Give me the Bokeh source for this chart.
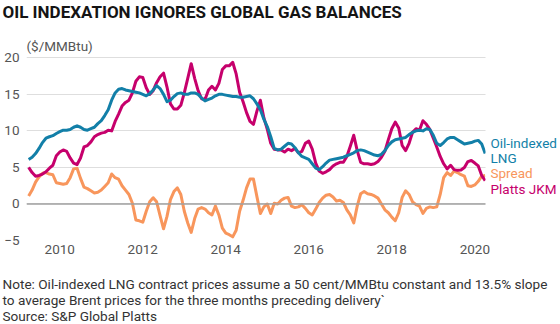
import pandas as pd
from bokeh.plotting import figure
from bokeh.layouts import column
from bokeh.models import Label, Span, FixedTicker, Range1d, BoxAnnotation
from bokeh.embed import file_html
from bokeh.resources import INLINE

# ---- data (monthly, Apr 2009 - Apr 2020), $/MMBtu ----
months = pd.date_range("2009-04-01", "2020-04-01", freq="MS")

oil_indexed_lng = [
    6.1, 6.4, 6.9, 7.6, 8.4, 9.0, 9.2, 9.35, 9.65, 9.9,
    10.1, 10.1, 10.2, 10.5, 10.7, 10.5, 10.2, 10.1, 10.3, 10.5,
    11.0, 11.4, 12.1, 12.9, 14.2, 15.2, 15.7, 15.8, 15.6, 15.5,
    15.4, 15.3, 15.2, 15.0, 14.8, 15.1, 15.6, 16.2, 15.8, 15.0,
    14.0, 14.2, 14.7, 15.1, 15.2, 15.0, 15.0, 15.2, 15.2, 15.0,
    14.5, 14.1, 14.3, 14.5, 14.8, 15.0, 15.0, 14.9, 14.8, 14.7,
    14.7, 14.6, 14.6, 14.7, 14.8, 14.4, 13.7, 12.9, 11.6, 10.6,
    9.2, 7.6, 7.4, 7.5, 7.9, 8.3, 8.2, 7.7, 7.0, 6.5,
    6.3, 6.1, 5.5, 4.9, 4.7, 5.1, 5.6, 6.0, 6.1, 6.2,
    6.3, 6.4, 6.6, 6.8, 7.0, 7.3, 7.4, 7.3, 7.1, 6.9,
    6.7, 6.6, 6.8, 7.3, 8.0, 8.5, 8.8, 8.9, 9.0, 9.1,
    9.5, 9.8, 10.0, 10.1, 10.0, 10.3, 10.2, 9.4, 8.3, 8.0,
    8.4, 8.9, 9.1, 9.1, 8.8, 8.5, 8.2, 8.3, 8.4, 8.6,
    8.7, 8.2, 6.9,
]

platts_jkm = [
    5.0, 4.3, 3.8, 3.9, 4.1, 4.4, 4.9, 5.3, 6.6, 7.1,
    7.4, 7.2, 6.3, 5.6, 5.4, 6.3, 7.8, 8.0, 8.5, 9.2,
    9.5, 9.7, 9.8, 10.1, 10.0, 11.3, 12.3, 13.4, 13.9, 14.2,
    15.2, 16.8, 17.4, 17.3, 15.9, 15.0, 15.5, 16.6, 17.4, 17.9,
    16.0, 13.7, 13.0, 13.0, 13.5, 15.2, 17.2, 19.2, 17.2, 15.5,
    14.4, 14.3, 15.6, 16.1, 15.6, 16.5, 18.4, 18.9, 18.9, 19.4,
    17.8, 15.3, 14.0, 12.5, 11.3, 10.9, 12.7, 14.2, 11.8, 10.2,
    8.3, 7.5, 7.4, 7.4, 7.1, 7.5, 7.3, 7.6, 7.0, 7.2,
    8.3, 8.6, 7.5, 5.6, 4.5, 4.2, 4.4, 4.7, 5.2, 5.5,
    5.7, 5.7, 6.5, 7.9, 9.4, 7.3, 5.7, 5.5, 5.5, 5.4,
    5.5, 5.8, 6.4, 7.2, 8.8, 10.3, 11.2, 10.4, 8.0, 7.3,
    8.3, 9.8, 10.3, 10.1, 11.4, 10.9, 10.2, 9.0, 7.8, 6.5,
    5.5, 4.8, 5.3, 4.7, 4.6, 4.65, 5.0, 5.8, 5.95, 5.6,
    5.2, 3.9, 3.2,
]

spread = [
    1.1, 1.9, 3.0, 3.7, 4.2, 4.3, 4.1, 4.0, 2.9, 2.8,
    2.7, 2.8, 3.6, 4.8, 4.9, 3.5, 2.3, 2.1, 1.8, 1.5,
    1.6, 1.9, 2.4, 2.9, 4.1, 3.6, 3.4, 2.5, 1.9, 1.3,
    0.1, -2.2, -2.3, -2.5, -1.0, 0.3, 0.85, 0.3, -1.6, -3.4,
    -1.7, 0.6, 1.7, 2.2, 1.3, -1.0, -2.6, -3.9, -2.0, -0.7,
    -0.5, -0.7, -1.2, -1.5, -0.3, -1.5, -3.3, -4.0, -4.2, -4.5,
    -3.6, -1.0, 0.5, 2.2, 3.4, 3.4, 1.0, -1.3, -0.4, 0.0,
    -1.3, 0.1, 0.0, 0.5, 0.8, 0.9, -0.3, -0.5, -0.4, -0.1,
    -0.6, -1.2, -1.5, -0.7, 0.2, 0.8, 1.2, 1.3, 0.95, 0.4,
    0.5, 0.2, -0.8, -1.5, -2.6, -0.3, 1.4, 1.7, 1.4, 1.3,
    1.1, 0.8, 0.0, -0.8, -1.2, -1.8, -2.3, -1.2, 0.9, 1.8,
    1.3, 0.3, -0.1, -0.3, -1.3, -0.6, -0.4, -0.5, -0.4, 1.3,
    3.6, 4.3, 3.9, 4.5, 4.3, 4.0, 3.8, 2.5, 2.4, 2.6,
    3.1, 3.8, 3.9,
]

x_ticks = [2010, 2012, 2014, 2016, 2018, 2020]
y_ticks = [-5, 0, 5, 10, 15, 20]

title_text = "OIL INDEXATION IGNORES GLOBAL GAS BALANCES"
unit_text = "($/MMBtu)"
note_lines = [
    "Note: Oil-indexed LNG contract prices assume a 50 cent/MMBtu constant and 13.5% slope",
    "to average Brent prices for the three months preceding delivery`",
    "Source: S&P Global Platts",
]
series_labels = ["Oil-indexed", "LNG", "Spread", "Platts JKM"]

# ---- styling ----
BLUE = "#127fa8"
MAGENTA = "#c6006c"
ORANGE = "#f8965c"
TICK_COLOR = "#555555"
FONT = "Roboto"
W = 560
TOP_H, MAIN_H, BOT_H = 36, 228, 60

x_years = [d.year + (d.month - 1) / 12 for d in months]
X0, X_DATA_END, X1 = 2009.198, 2020.258, 2022.065
Y0, Y1 = -5, 22.92


def text_fig(h):
    f = figure(width=W, height=h, output_backend="svg", toolbar_location=None,
               x_range=Range1d(0, W), y_range=Range1d(h, 0),
               min_border=0, x_axis_type=None, y_axis_type=None,
               frame_align=False)
    f.grid.visible = False
    f.outline_line_color = None
    f.background_fill_color = "white"
    f.border_fill_color = "white"
    return f


# ---- title strip ----
top = text_fig(TOP_H)
top.add_layout(Label(x=2, y=11, text=title_text, text_baseline="middle",
                     text_font=FONT, text_font_style="bold",
                     text_font_size="17px", text_color="#141414"))

# ---- main chart ----
p = figure(width=W, height=MAIN_H, output_backend="svg", toolbar_location=None,
           x_range=Range1d(X0, X1), y_range=Range1d(Y0, Y1),
           min_border_left=26, min_border_right=0,
           min_border_top=0, min_border_bottom=24, frame_align=False)
p.outline_line_color = None
p.background_fill_color = "white"
p.border_fill_color = "white"

for ax in (p.xaxis[0], p.yaxis[0]):
    ax.axis_line_color = None
    ax.major_tick_line_color = None
    ax.minor_tick_line_color = None
    ax.major_tick_out = 0
    ax.major_tick_in = 0
    ax.minor_tick_out = 0
    ax.minor_tick_in = 0
    ax.major_label_text_font = FONT
    ax.major_label_text_font_size = "13.5px"
    ax.major_label_text_color = TICK_COLOR

p.xaxis.ticker = FixedTicker(ticks=x_ticks)
p.yaxis.ticker = FixedTicker(ticks=y_ticks)
p.xaxis.major_label_standoff = 4
p.yaxis.major_label_standoff = 7

p.xgrid.grid_line_color = None
p.ygrid.grid_line_color = "#dedede"
p.ygrid.grid_line_width = 1

p.add_layout(Span(location=0, dimension="width", line_color="#a0a0a0", line_width=1.5))
# blank out grid beyond the data end (label area)
p.add_layout(BoxAnnotation(left=X_DATA_END, fill_color="white", fill_alpha=1.0,
                           line_color=None, level="annotation"))

p.line(x_years, spread, line_width=3, color=ORANGE, line_join="round")
p.line(x_years, platts_jkm, line_width=3, color=MAGENTA, line_join="round")
p.line(x_years, oil_indexed_lng, line_width=3, color=BLUE, line_join="round")

p.add_layout(Label(x=X0, y=20, x_offset=0, y_offset=4, text=unit_text,
                   text_baseline="bottom", text_font=FONT,
                   text_font_size="13.5px", text_color=TICK_COLOR))

for txt, yv, col in zip(series_labels, [8.4, 6.35, 4.3, 2.05], [BLUE, BLUE, ORANGE, MAGENTA]):
    p.add_layout(Label(x=X_DATA_END, y=yv, x_offset=5, text=txt, text_baseline="middle",
                       text_font=FONT, text_font_size="13.5px", text_color=col))

# ---- notes strip ----
bot = text_fig(BOT_H)
for txt, yv in zip(note_lines, [19, 35, 51]):
    bot.add_layout(Label(x=2, y=yv, text=txt, text_baseline="middle",
                         text_font=FONT, text_font_size="13.6px", text_color="#333333"))

layout = column(top, p, bot, spacing=0)
open("out.html", "w").write(file_html(layout, INLINE))
